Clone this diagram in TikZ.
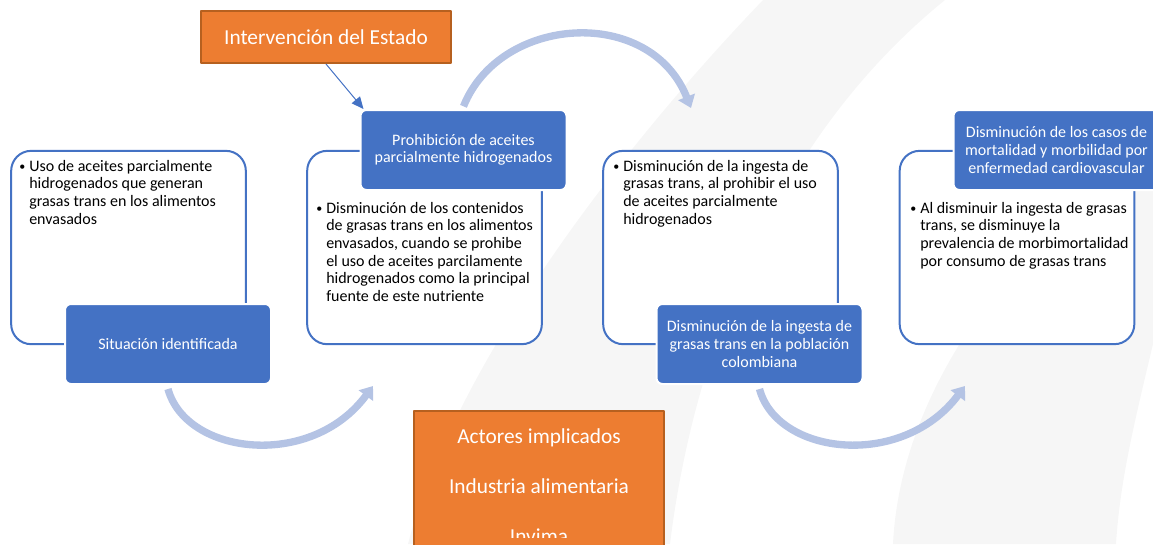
\documentclass[tikz,border=0pt]{standalone}
\usepackage{fontspec}
\setmainfont{Carlito}
\usetikzlibrary{arrows.meta}
\definecolor{azul}{HTML}{4472C4}
\definecolor{naranja}{HTML}{ED7D31}
\definecolor{borde}{HTML}{B6601F}
\definecolor{flecha}{HTML}{B4C3E4}
\definecolor{fondo}{HTML}{F6F6F6}
\newcommand{\bul}{\makebox[7.5pt][l]{\raisebox{0.6pt}{\fontsize{9}{9}\selectfont\textbullet}}}
\newcommand{\ind}{\hspace*{7.5pt}}
\begin{document}
\begin{tikzpicture}[x=0.75pt, y=-0.75pt, line join=round,
	panel/.style={draw=azul, line width=1.5pt, fill=white, rounded corners=15pt, minimum width=176pt, minimum height=145pt},
	texto/.style={anchor=north west, inner sep=0pt, align=left, font=\fontsize{12}{13.2}\selectfont},
	etiqueta/.style={fill=azul, draw=white, line width=1.5pt, rounded corners=4.5pt, text=white, align=center,
		font=\fontsize{12}{13.2}\selectfont, minimum width=154.5pt, minimum height=60pt, inner sep=2pt},
	actor/.style={fill=naranja, draw=borde, line width=1.5pt, text=white, align=center, minimum width=187pt},
	curva/.style={draw=flecha, line width=5.5pt, -{Triangle[width=13pt,length=9pt]}}]
	\useasboundingbox (0,0) rectangle (1153,544);
	% fondo
	\fill[fondo] (763,0) .. controls (600,170) and (450,380) .. (408,544) -- (670,544) .. controls (690,380) and (760,150) .. (945,0) -- cycle;
	\fill[fondo] (893,544) .. controls (900,400) and (1000,250) .. (1153,150) -- (1153,344) .. controls (1135,420) and (1120,480) .. (1116,544) -- cycle;
	% cuadros
	\node[panel] (p1) at (128.5,247.5) {};
	\node[panel] (p2) at (424.5,247.5) {};
	\node[panel] (p3) at (720.5,247.5) {};
	\node[panel] (p4) at (1017,247.5) {};
	\node[texto] (t1) at (19,160) {\bul Uso de aceites parcialmente\\\ind hidrogenados que generan\\\ind grasas trans en los alimentos\\\ind envasados};
	\node[texto] (t2) at (316,202) {\bul Disminución de los contenidos\\\ind de grasas trans en los alimentos\\\ind envasados, cuando se prohibe\\\ind el uso de aceites parcilamente\\\ind hidrogenados como la principal\\\ind fuente de este nutriente};
	\node[texto] (t3) at (613,160) {\bul Disminución de la ingesta de\\\ind grasas trans, al prohibir el uso\\\ind de aceites parcialmente\\\ind hidrogenados};
	\node[texto] (t4) at (910,202) {\bul Al disminuir la ingesta de grasas\\\ind trans, se disminuye la\\\ind prevalencia de morbimortalidad\\\ind por consumo de grasas trans};
	\node[etiqueta] (sit) at (168,344) {Situación identificada};
	\node[etiqueta] (prohib) at (463.5,150) {Prohibición de aceites\\parcialmente hidrogenados};
	\node[etiqueta] (ingesta) at (759.5,344) {Disminución de la ingesta de\\grasas trans en la población\\colombiana};
	\node[etiqueta] (casos) at (1056.5,150) {Disminución de los casos de\\mortalidad y morbilidad por\\enfermedad cardiovascular};
	% flechas
	\coordinate (c1) at (373,386);
	\coordinate (c2) at (691,108);
	\coordinate (c3) at (965,386);
	\draw[curva] ([yshift=-3pt]sit.south) .. controls (186,455) and (311,470) .. (c1);
	\draw[curva] ([yshift=2pt]prohib.north) .. controls (500,15) and (650,5) .. (c2);
	\draw[curva] ([yshift=-3pt]ingesta.south) .. controls (777,455) and (902,470) .. (c3);
	\node[actor, minimum height=39pt, font=\fontsize{16}{18}\selectfont] (interv) at (326,37) {Intervención del Estado};
	\draw[azul, line width=0.75pt, -{Triangle[width=8pt,length=9pt]}] (interv.south) -- ([xshift=3pt]prohib.north west);
	\node[actor, minimum height=114pt] (actores) at (539,487) {};
	\begin{scope}
		\clip (414,411) rectangle (664,537);
		\node[text=white, align=center, font=\fontsize{16}{37.5}\selectfont] (lista) at ([yshift=1pt]actores.center) {Actores implicados\\Industria alimentaria\\Invima};
	\end{scope}
\end{tikzpicture}
\end{document}
